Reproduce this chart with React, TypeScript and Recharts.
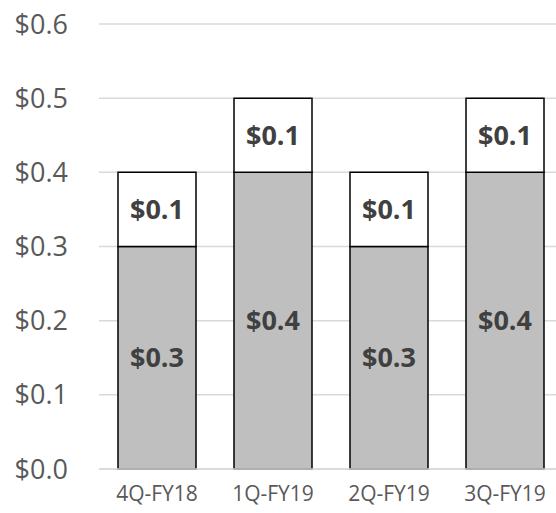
import { Bar, BarChart, CartesianGrid, LabelList, XAxis, YAxis } from 'recharts'

const quarters = ['4Q-FY18', '1Q-FY19', '2Q-FY19', '3Q-FY19']
const baseValues = [0.3, 0.4, 0.3, 0.4]
const topValues = [0.1, 0.1, 0.1, 0.1]
const yTicks = [0, 0.1, 0.2, 0.3, 0.4, 0.5, 0.6]

const data = quarters.map((q, i) => ({ q, base: baseValues[i], top: topValues[i] }))

const FONT = '"Open Sans", sans-serif'
const money = (v: unknown) => `$${Number(v).toFixed(1)}`

export default function App() {
  return (
    <div
      style={{
        position: 'absolute',
        top: 0,
        left: 8,
        width: 548,
        height: 513,
        overflow: 'hidden',
        fontFamily: FONT,
      }}
    >
      <BarChart
        width={560}
        height={513}
        data={data}
        margin={{ top: 24, right: 5, bottom: 14, left: 0 }}
        barSize={78}
        accessibilityLayer={false}
      >
        <CartesianGrid vertical={false} stroke="#d9d9d9" strokeWidth={1.5} />
        <XAxis
          dataKey="q"
          axisLine={{ stroke: '#d9d9d9', strokeWidth: 1.5 }}
          tickLine={false}
          tickSize={0}
          tickMargin={17}
          height={30}
          tick={{ fill: '#595959', fontSize: 21, fontFamily: FONT }}
        />
        <YAxis
          domain={[0, 0.6]}
          ticks={yTicks}
          tickFormatter={money}
          axisLine={false}
          tickLine={false}
          tickSize={0}
          tickMargin={31}
          width={91}
          tick={{ fill: '#595959', fontSize: 27, fontFamily: FONT }}
        />
        <Bar dataKey="base" stackId="a" fill="#bfbfbf" stroke="#000" strokeWidth={1.5} isAnimationActive={false}>
          <LabelList
            dataKey="base"
            position="center"
            formatter={money}
            fill="#404040"
            fontSize={27}
            fontWeight="bold"
            fontFamily={FONT}
          />
        </Bar>
        <Bar dataKey="top" stackId="a" fill="#ffffff" stroke="#000" strokeWidth={1.5} isAnimationActive={false}>
          <LabelList
            dataKey="top"
            position="center"
            formatter={money}
            fill="#404040"
            fontSize={27}
            fontWeight="bold"
            fontFamily={FONT}
          />
        </Bar>
      </BarChart>
    </div>
  )
}
